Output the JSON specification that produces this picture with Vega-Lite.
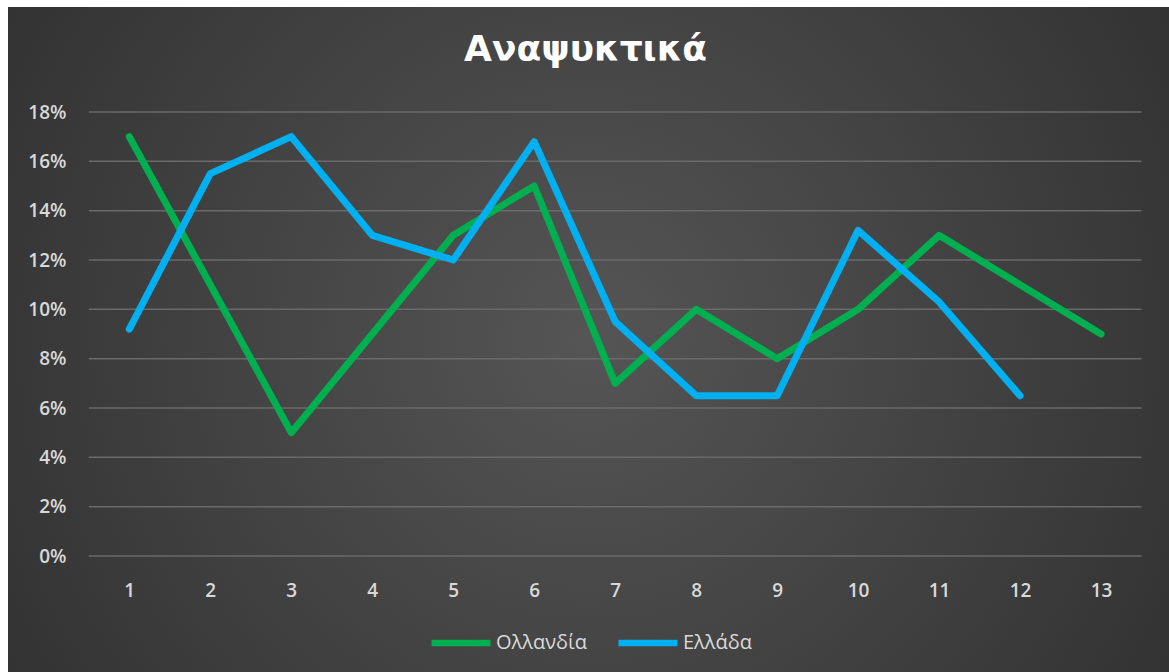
{
  "$schema": "https://vega.github.io/schema/vega-lite/v6.json",
  "autosize": {"type": "none"},
  "padding": {"left": 8, "top": 7, "right": 0, "bottom": 0},
  "width": 1161,
  "height": 665,
  "background": "white",
  "title": {
    "text": "Αναψυκτικά",
    "font": "DejaVu Sans",
    "fontSize": 36,
    "fontWeight": "bold",
    "color": "#ffffff",
    "anchor": "middle",
    "frame": "group",
    "baseline": "middle",
    "offset": -43,
    "dy": 36,
    "dx": -3
  },
  "config": {
    "view": {"stroke": null},
    "axis": {
      "labelFont": "Open Sans",
      "labelFontSize": 19,
      "labelFontWeight": 600,
      "labelColor": "#d9d9d9",
      "domain": false,
      "ticks": false,
      "tickSize": 0,
      "grid": false,
      "title": null
    },
    "legend": {
      "labelFont": "Open Sans",
      "labelFontSize": 20,
      "labelColor": "#d9d9d9"
    }
  },
  "datasets": {
    "series": [
      {"x": 1, "country": "Ολλανδία", "v": 0.17},
      {"x": 2, "country": "Ολλανδία", "v": 0.11},
      {"x": 3, "country": "Ολλανδία", "v": 0.05},
      {"x": 4, "country": "Ολλανδία", "v": 0.09},
      {"x": 5, "country": "Ολλανδία", "v": 0.13},
      {"x": 6, "country": "Ολλανδία", "v": 0.15},
      {"x": 7, "country": "Ολλανδία", "v": 0.07},
      {"x": 8, "country": "Ολλανδία", "v": 0.10},
      {"x": 9, "country": "Ολλανδία", "v": 0.08},
      {"x": 10, "country": "Ολλανδία", "v": 0.10},
      {"x": 11, "country": "Ολλανδία", "v": 0.13},
      {"x": 12, "country": "Ολλανδία", "v": 0.11},
      {"x": 13, "country": "Ολλανδία", "v": 0.09},
      {"x": 1, "country": "Ελλάδα", "v": 0.092},
      {"x": 2, "country": "Ελλάδα", "v": 0.155},
      {"x": 3, "country": "Ελλάδα", "v": 0.17},
      {"x": 4, "country": "Ελλάδα", "v": 0.13},
      {"x": 5, "country": "Ελλάδα", "v": 0.12},
      {"x": 6, "country": "Ελλάδα", "v": 0.168},
      {"x": 7, "country": "Ελλάδα", "v": 0.095},
      {"x": 8, "country": "Ελλάδα", "v": 0.065},
      {"x": 9, "country": "Ελλάδα", "v": 0.065},
      {"x": 10, "country": "Ελλάδα", "v": 0.132},
      {"x": 11, "country": "Ελλάδα", "v": 0.103},
      {"x": 12, "country": "Ελλάδα", "v": 0.065}
    ],
    "grid": [
      {"g": 0}, {"g": 0.02}, {"g": 0.04}, {"g": 0.06}, {"g": 0.08},
      {"g": 0.10}, {"g": 0.12}, {"g": 0.14}, {"g": 0.16}, {"g": 0.18}
    ]
  },
  "layer": [
    {
      "data": {"name": "grid"},
      "mark": {"type": "rule", "color": "#6a6a6a", "strokeWidth": 1.5},
      "encoding": {
        "y": {"field": "g", "type": "quantitative",
              "scale": {"domain": [-0.04702, 0.22257], "nice": false, "zero": false},
              "axis": {"values": [0, 0.02, 0.04, 0.06, 0.08, 0.1, 0.12, 0.14, 0.16, 0.18],
                       "format": ".0%", "offset": -62, "labelPadding": 4}},
        "x": {"datum": 0.5, "type": "quantitative",
              "scale": {"domain": [-0.498, 13.839], "nice": false, "zero": false},
              "axis": {"values": [1,2,3,4,5,6,7,8,9,10,11,12,13], "format": "d",
                       "offset": -92, "labelPadding": 1}},
        "x2": {"datum": 13.5}
      }
    },
    {
      "data": {"name": "series"},
      "mark": {"type": "line", "strokeWidth": 7, "strokeCap": "round", "strokeJoin": "round"},
      "encoding": {
        "x": {"field": "x", "type": "quantitative"},
        "y": {"field": "v", "type": "quantitative"},
        "color": {
          "field": "country", "type": "nominal",
          "scale": {"domain": ["Ολλανδία", "Ελλάδα"], "range": ["#00B050", "#00B0F0"]},
          "legend": {
            "title": null,
            "orient": "none",
            "direction": "horizontal",
            "legendX": 420,
            "legendY": 603,
            "padding": 0,
            "symbolType": "stroke",
            "symbolSize": 3481,
            "symbolStrokeWidth": 6.5,
            "labelOffset": 2,
            "columnPadding": 17
          }
        }
      }
    }
  ],
  "resolve": {"scale": {}},
  "view": {
    "stroke": null,
    "fill": {
      "gradient": "radial",
      "x1": 0.5, "y1": 0.5, "r1": 0,
      "x2": 0.5, "y2": 0.5, "r2": 0.72,
      "stops": [
        {"offset": 0, "color": "#555555"},
        {"offset": 1, "color": "#2a2a2a"}
      ]
    }
  }
}
